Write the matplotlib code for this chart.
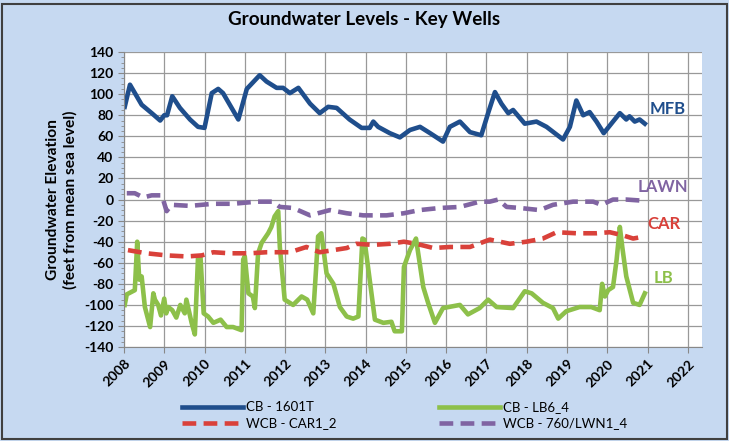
import numpy as np
import matplotlib.pyplot as plt
from matplotlib.patches import Rectangle
from matplotlib.ticker import MultipleLocator

# CB - 1601T (MFB)
mfb_t = [2008.02, 2008.15, 2008.44, 2008.69, 2008.9, 2009.0, 2009.07, 2009.2, 2009.39,
         2009.64, 2009.84, 2010.0, 2010.18, 2010.34, 2010.46, 2010.84, 2011.05, 2011.37,
         2011.54, 2011.79, 2011.95, 2012.12, 2012.33, 2012.62, 2012.86, 2013.07, 2013.28,
         2013.6, 2013.9, 2014.1, 2014.19, 2014.31, 2014.6, 2014.85, 2015.1, 2015.35,
         2015.6, 2015.92, 2016.09, 2016.34, 2016.59, 2016.87, 2017.04, 2017.21, 2017.37,
         2017.54, 2017.66, 2017.95, 2018.24, 2018.49, 2018.9, 2019.07, 2019.23, 2019.4,
         2019.56, 2019.73, 2019.91, 2020.14, 2020.31, 2020.47, 2020.55, 2020.68, 2020.8,
         2020.93]
mfb_v = [88, 109, 90, 82, 75, 80, 80, 98, 87,
         76, 69, 68, 101, 105, 101, 76, 105, 118,
         112, 106, 106, 101, 106, 91, 82, 88, 87,
         76, 68, 68, 74, 69, 63, 59, 66, 69,
         63, 55, 69, 74, 64, 61, 82, 102, 91,
         82, 85, 72, 74, 69, 57, 69, 94, 80,
         83, 74, 63, 74, 82, 76, 79, 74, 76,
         72]

# CB - LB6_4 (LB)
lb_t = [2008.02, 2008.07, 2008.27, 2008.33, 2008.38, 2008.44, 2008.52, 2008.65, 2008.73,
        2008.77, 2008.85, 2008.92, 2009.0, 2009.05, 2009.1, 2009.2, 2009.3, 2009.4, 2009.51,
        2009.55, 2009.68, 2009.76, 2009.84, 2009.9, 2009.98, 2010.09, 2010.22, 2010.4,
        2010.55, 2010.71, 2010.92, 2010.96, 2011.0, 2011.09, 2011.2, 2011.25, 2011.33,
        2011.42, 2011.58, 2011.66, 2011.74, 2011.83, 2011.87, 2011.99, 2012.2, 2012.41,
        2012.55, 2012.7, 2012.82, 2012.9, 2013.03, 2013.2, 2013.36, 2013.53, 2013.69,
        2013.82, 2013.92, 2013.97, 2014.1, 2014.23, 2014.44, 2014.64, 2014.72, 2014.9,
        2014.95, 2015.1, 2015.25, 2015.43, 2015.55, 2015.72, 2015.92, 2016.34, 2016.54,
        2016.83, 2017.04, 2017.25, 2017.66, 2017.95, 2018.12, 2018.4, 2018.65, 2018.78,
        2018.98, 2019.31, 2019.6, 2019.81, 2019.87, 2019.94, 2020.02, 2020.14, 2020.23,
        2020.31, 2020.37, 2020.47, 2020.64, 2020.8, 2020.93]
lb_v = [-100, -90, -86, -40, -76, -73, -102, -121, -89,
        -95, -100, -110, -94, -108, -102, -105, -112, -100, -108,
        -95, -117, -128, -54, -54, -108, -111, -117, -114,
        -121, -121, -124, -57, -54, -89, -92, -103, -51,
        -41, -32, -26, -16, -11, -45, -95, -100, -92,
        -95, -108, -35, -32, -70, -80, -102, -111, -113,
        -111, -37, -38, -76, -114, -117, -116, -125, -125,
        -64, -48, -37, -83, -98, -117, -103, -100, -109,
        -103, -95, -102, -103, -87, -89, -98, -103, -113,
        -106, -102, -102, -105, -80, -92, -86, -83, -57,
        -26, -45, -73, -98, -100, -89]

# WCB - CAR1_2 (CAR)
car_t = [2008.1, 2008.56, 2009.06, 2009.56, 2009.93, 2010.22, 2010.63, 2011.13, 2011.54,
         2012.12, 2012.53, 2012.86, 2013.2, 2013.53, 2013.77, 2014.19, 2014.6, 2014.95,
         2015.26, 2015.68, 2016.09, 2016.59, 2017.08, 2017.58, 2017.99, 2018.4, 2018.74,
         2019.23, 2019.73, 2020.06, 2020.39, 2020.64, 2020.93]
car_v = [-48, -51, -53, -54, -53, -50, -51, -51, -50,
         -50, -45, -50, -48, -46, -42, -43, -42, -40,
         -42, -46, -45, -45, -38, -42, -40, -37, -31,
         -32, -32, -31, -34, -37, -35]

# WCB - 760/LWN1_4 (LAWN)
lawn_t = [2008.07, 2008.27, 2008.48, 2008.69, 2008.94, 2009.06, 2009.18, 2009.64, 2010.22,
          2010.71, 2011.29, 2011.7, 2011.87, 2012.2, 2012.62, 2013.11, 2013.53, 2013.94,
          2014.52, 2014.95, 2015.34, 2015.84, 2016.34, 2016.83, 2017.08, 2017.29, 2017.5,
          2017.83, 2018.32, 2018.65, 2019.15, 2019.65, 2019.85, 2020.14, 2020.47, 2020.85]
lawn_v = [6, 6, 2, 4, 4, -11, -5, -6, -4,
          -4, -2, -2, -7, -8, -15, -10, -13, -15,
          -15, -13, -10, -8, -7, -2, -2, 0, -7,
          -8, -10, -5, -2, -2, -5, 0, 0, -1]

years = list(range(2008, 2023))

blue = '#1F4E8C'
green = '#8DC04A'
red = '#D9413A'
purple = '#8064A2'
bg = '#C6D9F1'

plt.rcParams['font.family'] = ['Lato', 'DejaVu Sans']

fig = plt.figure(figsize=(7.29, 4.41), dpi=100, facecolor=bg)
fig.patches.append(Rectangle((0.003, 0.005), 0.994, 0.985, transform=fig.transFigure,
                             fill=False, edgecolor='#404040', linewidth=1.5))
ax = fig.add_axes([0.170, 0.213, 0.793, 0.669])

ax.plot(mfb_t, mfb_v, color=blue, lw=3.3, label='CB - 1601T', solid_joinstyle='round')
ax.plot(lb_t, lb_v, color=green, lw=3.3, label='CB - LB6_4', solid_joinstyle='round')
ax.plot(car_t, car_v, color=red, lw=3.3, ls=(0, (3, 1.6)), label='WCB - CAR1_2')
ax.plot(lawn_t, lawn_v, color=purple, lw=3.3, ls=(0, (3, 1.6)), label='WCB - 760/LWN1_4')

ax.set_xlim(2008, 2022.35)
ax.set_ylim(-140, 140)
ax.set_xticks(years)
ax.set_xticklabels([str(y) for y in years], rotation=45, ha='right', rotation_mode='anchor',
                   fontsize=10, fontweight='bold')
ax.set_yticks(range(-140, 141, 20))
ax.set_yticklabels([str(v) for v in range(-140, 141, 20)], fontsize=10, fontweight='bold')
ax.yaxis.set_minor_locator(MultipleLocator(5))
ax.tick_params(axis='both', which='major', length=4, color='#888888')
ax.tick_params(axis='y', which='minor', length=2, color='#888888')
ax.grid(True, which='major', color='#999999', lw=0.9)
ax.set_axisbelow(True)
for s in ['top', 'right']:
    ax.spines[s].set_visible(False)
for s in ['left', 'bottom']:
    ax.spines[s].set_color('#888888')

ax.set_ylabel('Groundwater Elevation\n(feet from mean sea level)', fontsize=11.2,
              fontweight='bold', labelpad=5)

fig.text(0.5, 0.955, 'Groundwater Levels - Key Wells', ha='center', va='center',
         fontsize=13.6, fontweight='bold')

ax.text(2021.05, 86, 'MFB', color=blue, fontsize=12, fontweight='bold', va='center')
ax.text(2020.75, 12, 'LAWN', color=purple, fontsize=12, fontweight='bold', va='center')
ax.text(2021.0, -23, 'CAR', color=red, fontsize=12, fontweight='bold', va='center')
ax.text(2021.15, -74, 'LB', color=green, fontsize=12, fontweight='bold', va='center')

handles, labels = ax.get_legend_handles_labels()
order = [0, 2, 1, 3]
fig.legend([handles[i] for i in order], [labels[i] for i in order], ncol=2,
           loc='lower center', bbox_to_anchor=(0.555, 0.0), frameon=False, fontsize=9.5,
           handlelength=4.6, handletextpad=0.2, columnspacing=7.8, labelspacing=0.3)

fig.savefig('out.png', dpi=100, facecolor=bg)
